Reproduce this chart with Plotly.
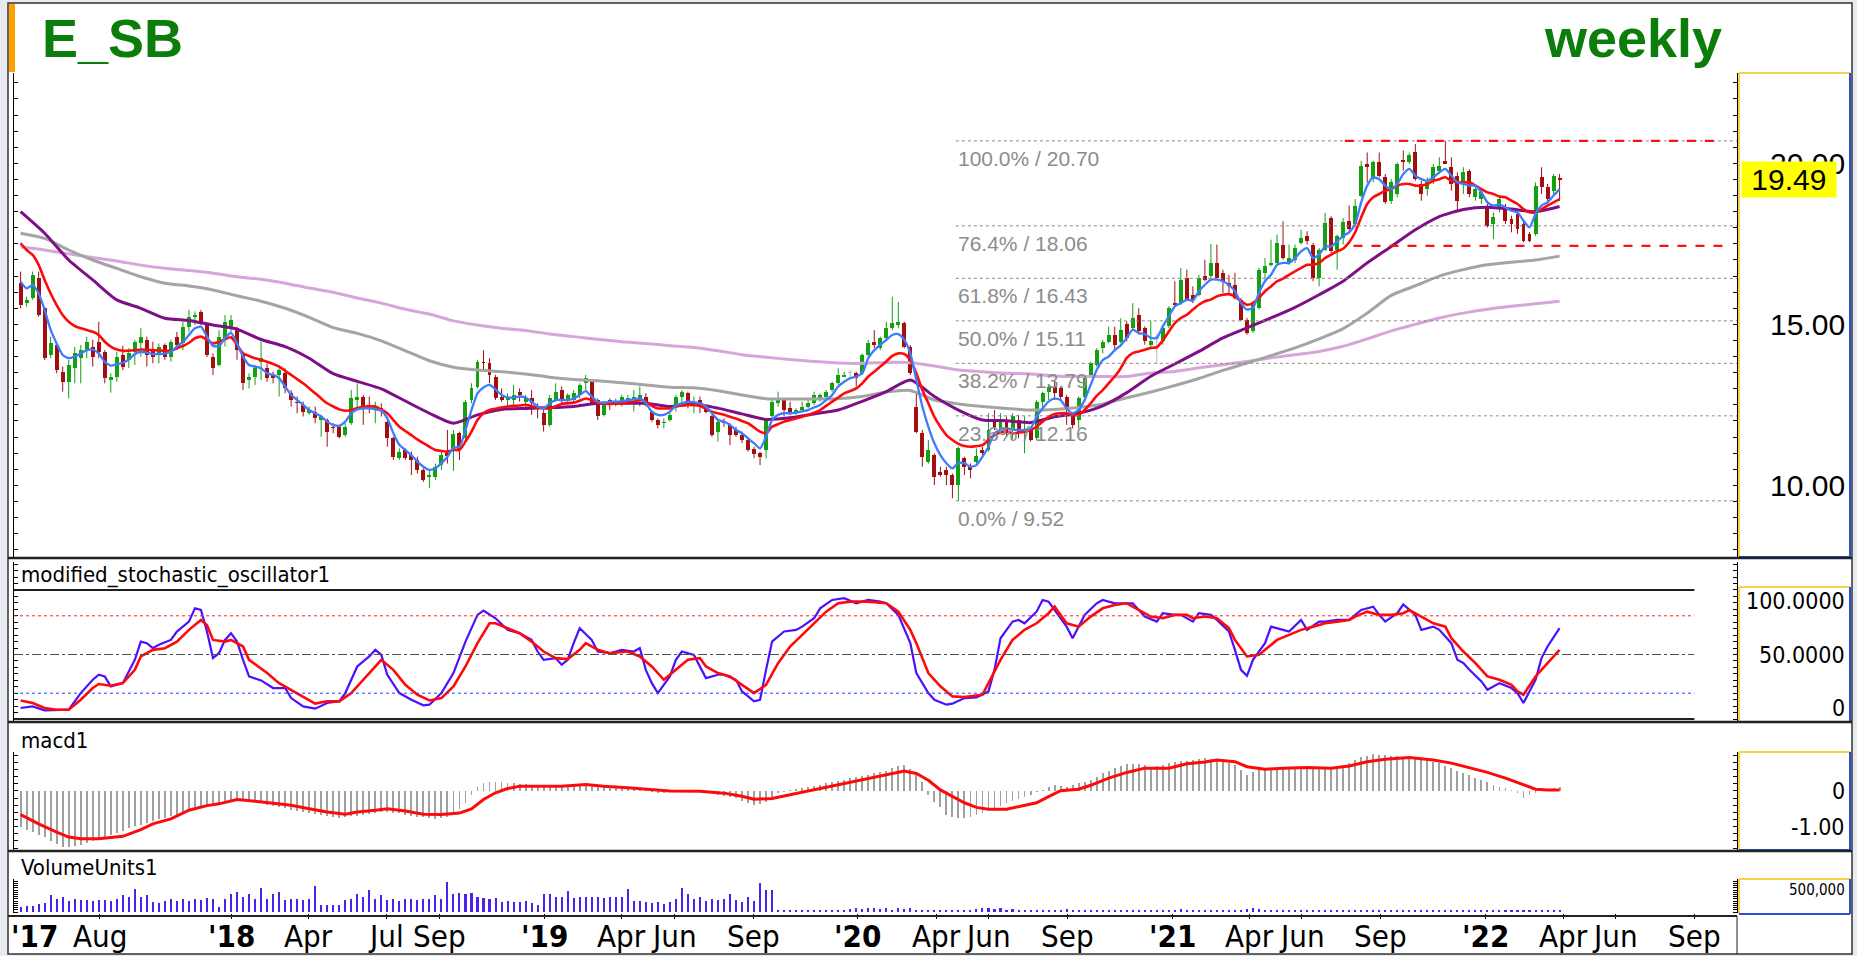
import plotly.graph_objects as go
import pandas as pd

W, H = 1857, 956
def px(x): return x / W
def py(y): return 1 - y / H

# ---------------- data ----------------
start = pd.Timestamp("2017-05-01")

opens = [16.27, 15.66, 15.81, 16.43, 15.50, 14.05, 14.36, 13.53, 13.22, 13.64,
 13.95, 14.20, 14.31, 14.46, 14.15, 13.27, 13.38, 14.05, 13.90, 14.15,
 14.41, 14.52, 14.20, 14.10, 14.36, 14.00, 14.62, 14.41, 14.93, 15.24,
 15.40, 14.98, 14.00, 13.74, 14.52, 14.93, 14.88, 14.05, 13.27, 13.38,
 13.84, 13.64, 13.43, 13.43, 13.48, 12.86, 12.60, 12.50, 12.24, 12.29,
 12.03, 12.03, 11.82, 11.82, 11.56, 11.93, 12.65, 12.76, 12.50, 12.34,
 12.40, 11.98, 11.46, 10.84, 11.10, 10.95, 10.79, 10.48, 10.27, 10.27,
 10.63, 11.00, 11.10, 11.62, 11.46, 12.65, 13.07, 13.84, 13.79, 13.38,
 12.76, 12.65, 12.65, 12.91, 12.60, 12.70, 12.45, 12.24, 11.88, 12.65,
 12.96, 12.65, 12.65, 12.81, 13.17, 13.22, 12.65, 12.19, 12.65, 12.50,
 12.55, 12.65, 12.65, 12.65, 12.76, 12.29, 12.03, 11.93, 12.03, 12.45,
 12.76, 12.86, 12.50, 12.65, 12.36, 12.14, 11.67, 11.98, 11.88, 11.72,
 11.56, 11.41, 11.13, 11.00, 11.10, 12.14, 12.55, 12.65, 12.39, 12.24,
 12.34, 12.45, 12.55, 12.65, 12.76, 12.96, 13.17, 13.38, 13.48, 13.50,
 13.48, 14.05, 14.46, 14.26, 14.57, 14.88, 14.98, 15.03, 14.31, 12.44,
 11.62, 10.74, 10.94, 10.42, 10.48, 10.32, 10.01, 10.84, 10.58, 10.74,
 11.10, 11.10, 12.03, 11.72, 12.03, 11.72, 12.03, 11.62, 11.72, 11.46,
 12.60, 12.91, 13.07, 13.01, 12.76, 12.14, 12.03, 12.76, 13.43, 13.74,
 14.26, 14.46, 14.67, 14.46, 15.00, 14.89, 15.30, 14.89, 14.37, 14.58,
 14.47, 14.94, 15.66, 15.66, 16.44, 15.92, 15.92, 16.49, 16.49, 16.90,
 16.60, 16.29, 16.23, 15.77, 15.15, 14.78, 15.51, 16.60, 16.85, 16.90,
 17.48, 16.90, 17.01, 17.53, 17.74, 17.48, 16.44, 17.32, 18.30, 17.32,
 17.69, 18.22, 18.12, 19.00, 19.98, 19.51, 20.03, 19.59, 18.84, 19.05,
 20.10, 20.03, 20.34, 19.36, 19.20, 19.46, 19.77, 20.08, 19.88, 19.62,
 19.36, 19.77, 18.95, 18.89, 18.69, 18.12, 18.63, 18.63, 18.27, 18.43,
 18.12, 17.81, 17.81, 19.57, 19.26, 19.15, 19.51]

highs = [16.64, 15.86, 16.64, 16.64, 15.55, 14.62, 14.41, 13.69, 13.90, 14.30,
 14.36, 14.62, 14.52, 15.08, 14.20, 13.48, 14.15, 14.34, 14.26, 14.52,
 14.88, 14.62, 14.46, 14.41, 14.41, 14.52, 14.77, 15.08, 15.45, 15.40,
 15.45, 15.03, 14.10, 14.82, 15.29, 15.29, 14.93, 14.10, 13.48, 13.74,
 14.46, 13.79, 13.53, 13.74, 13.64, 12.96, 12.76, 12.60, 12.45, 12.45,
 12.19, 12.08, 11.93, 11.88, 11.93, 12.96, 13.17, 12.81, 12.76, 12.60,
 12.55, 12.03, 11.51, 11.15, 11.15, 11.05, 10.89, 10.53, 10.48, 10.68,
 11.10, 11.72, 11.72, 11.67, 12.65, 13.17, 13.89, 14.20, 13.95, 13.43,
 13.01, 12.86, 13.12, 13.01, 12.81, 12.96, 12.55, 12.34, 12.81, 13.17,
 13.07, 12.86, 12.96, 13.17, 13.43, 13.27, 12.70, 12.60, 12.70, 12.70,
 12.81, 12.81, 12.96, 13.07, 12.86, 12.34, 12.08, 12.08, 12.29, 12.81,
 12.96, 12.91, 12.76, 12.76, 12.50, 12.19, 12.08, 12.08, 11.93, 11.82,
 11.67, 11.46, 11.20, 11.05, 12.08, 12.65, 12.91, 12.70, 12.60, 12.39,
 12.60, 12.65, 12.91, 12.86, 12.96, 13.22, 13.64, 13.53, 13.58, 13.53,
 14.10, 14.52, 14.82, 14.62, 15.08, 15.86, 15.70, 15.08, 14.36, 12.86,
 11.72, 11.41, 10.99, 10.58, 10.58, 10.37, 11.20, 10.89, 10.68, 11.15,
 11.20, 12.24, 12.34, 12.24, 12.14, 12.24, 12.19, 12.14, 11.82, 12.65,
 12.91, 13.12, 13.22, 13.07, 12.81, 12.24, 12.76, 13.43, 13.84, 14.26,
 14.52, 14.93, 14.93, 15.19, 15.10, 15.66, 15.50, 14.94, 15.10, 14.73,
 14.99, 15.56, 16.34, 16.75, 16.70, 16.18, 16.54, 17.01, 17.50, 17.48,
 16.70, 16.54, 16.60, 15.82, 15.20, 15.72, 16.75, 17.06, 17.63, 17.79,
 18.20, 17.48, 17.48, 17.94, 17.89, 17.53, 17.37, 18.46, 18.36, 17.79,
 18.30, 18.69, 18.89, 20.08, 20.34, 20.08, 20.34, 19.67, 19.51, 20.03,
 20.40, 20.34, 20.60, 19.46, 19.57, 19.98, 20.19, 20.70, 20.19, 19.72,
 19.88, 19.82, 19.31, 19.20, 18.74, 18.48, 18.95, 18.74, 18.38, 18.48,
 18.22, 17.86, 19.41, 19.88, 19.36, 19.67, 19.67]

lows = [15.50, 15.55, 15.76, 15.24, 13.89, 13.95, 13.48, 12.91, 12.70, 13.17,
 13.17, 13.95, 13.69, 13.95, 13.17, 12.88, 13.22, 13.58, 13.64, 13.74,
 14.00, 13.69, 13.79, 13.79, 13.90, 13.84, 14.20, 14.20, 14.77, 14.98,
 14.98, 13.99, 13.43, 13.69, 14.31, 14.77, 13.90, 12.96, 13.01, 13.12,
 13.27, 13.22, 13.17, 12.76, 12.86, 12.45, 12.24, 12.14, 12.19, 11.93,
 11.51, 11.20, 11.62, 11.46, 11.51, 11.88, 12.39, 11.88, 12.24, 11.93,
 12.14, 11.20, 10.79, 10.79, 10.79, 10.32, 10.37, 10.11, 9.91, 10.17,
 10.48, 10.68, 10.45, 10.79, 11.41, 12.55, 13.01, 13.53, 13.17, 12.65,
 12.60, 12.45, 12.45, 12.60, 12.34, 12.19, 12.08, 11.67, 11.82, 12.60,
 12.55, 12.50, 12.55, 12.70, 12.96, 12.50, 12.03, 12.14, 12.34, 12.45,
 12.45, 12.50, 12.29, 12.45, 12.45, 11.98, 11.77, 11.77, 11.98, 12.29,
 12.50, 12.39, 12.24, 12.24, 12.24, 11.51, 11.36, 11.82, 11.25, 11.51,
 11.31, 11.05, 10.84, 10.63, 10.84, 12.08, 12.45, 12.14, 12.19, 12.19,
 12.29, 12.39, 12.50, 12.60, 12.65, 12.91, 13.12, 13.38, 13.38, 13.07,
 13.43, 13.99, 14.26, 14.20, 14.52, 14.82, 14.88, 14.26, 13.43, 11.62,
 10.58, 10.68, 10.01, 10.27, 10.01, 9.60, 9.52, 10.32, 10.22, 10.68,
 10.89, 11.05, 11.72, 11.62, 11.51, 11.41, 11.46, 11.00, 11.36, 11.41,
 12.39, 12.65, 12.65, 12.65, 11.88, 11.77, 11.77, 12.60, 13.38, 13.69,
 14.10, 14.41, 14.20, 14.41, 14.47, 14.84, 14.68, 14.37, 14.32, 13.80,
 14.37, 14.89, 15.56, 15.61, 15.72, 15.66, 15.87, 16.34, 16.44, 16.39,
 15.97, 15.92, 15.77, 15.10, 14.68, 14.73, 15.46, 16.39, 16.80, 16.85,
 17.01, 16.85, 16.90, 17.48, 17.48, 16.34, 16.18, 17.27, 17.22, 16.70,
 17.48, 17.86, 18.01, 18.95, 19.40, 19.41, 19.57, 18.74, 18.74, 18.95,
 19.77, 19.98, 19.46, 18.84, 19.00, 19.36, 19.67, 19.98, 19.15, 18.53,
 19.05, 18.95, 18.84, 18.74, 18.01, 17.65, 18.48, 18.12, 17.86, 17.81,
 17.55, 17.55, 17.75, 19.05, 18.79, 19.05, 18.84]

closes = [15.60, 15.76, 16.53, 15.29, 13.95, 14.41, 13.58, 13.22, 13.74, 14.10,
 14.20, 14.46, 14.00, 14.15, 13.32, 13.37, 14.00, 13.69, 14.12, 14.46,
 14.62, 14.05, 14.00, 14.31, 14.00, 14.46, 14.36, 14.93, 15.24, 15.29,
 15.03, 14.05, 13.64, 14.62, 15.08, 15.14, 14.20, 13.17, 13.38, 13.64,
 13.95, 13.32, 13.32, 13.58, 13.01, 12.65, 12.55, 12.29, 12.34, 12.08,
 12.14, 11.67, 11.77, 11.51, 11.82, 12.70, 12.76, 12.45, 12.39, 12.45,
 12.34, 11.46, 10.89, 11.05, 10.84, 10.79, 10.48, 10.17, 10.32, 10.58,
 10.95, 10.90, 11.60, 11.10, 12.60, 13.01, 13.84, 13.79, 13.43, 12.70,
 12.65, 12.76, 12.81, 12.81, 12.70, 12.55, 12.40, 11.88, 12.70, 12.91,
 12.65, 12.81, 12.86, 13.12, 13.33, 12.55, 12.14, 12.50, 12.55, 12.60,
 12.76, 12.70, 12.76, 12.81, 12.50, 12.03, 11.88, 11.98, 12.19, 12.76,
 12.91, 12.60, 12.60, 12.45, 12.29, 11.56, 11.98, 11.93, 11.56, 11.56,
 11.41, 11.10, 10.98, 10.89, 12.03, 12.60, 12.65, 12.34, 12.29, 12.34,
 12.45, 12.55, 12.81, 12.81, 12.91, 13.17, 13.43, 13.43, 13.48, 13.33,
 14.05, 14.41, 14.36, 14.57, 14.88, 15.03, 15.08, 14.31, 13.48, 11.67,
 10.89, 11.10, 10.27, 10.32, 10.32, 10.01, 11.15, 10.58, 10.48, 10.90,
 11.00, 11.72, 11.82, 12.03, 11.62, 12.14, 11.62, 11.72, 11.41, 12.60,
 12.86, 13.07, 12.86, 12.76, 12.39, 11.88, 12.70, 13.38, 13.79, 14.20,
 14.46, 14.67, 14.36, 14.82, 14.58, 15.20, 14.78, 14.47, 14.47, 14.58,
 14.89, 15.50, 15.61, 16.39, 15.77, 15.77, 16.44, 16.39, 16.90, 16.44,
 16.34, 16.18, 15.82, 15.15, 14.73, 15.66, 16.70, 16.80, 16.90, 17.53,
 17.06, 17.06, 17.37, 17.69, 17.58, 16.44, 17.32, 18.14, 17.27, 17.74,
 18.17, 17.96, 18.69, 19.93, 19.88, 20.03, 19.62, 18.79, 19.41, 19.98,
 20.03, 20.27, 19.51, 19.05, 19.41, 19.88, 19.93, 19.98, 19.36, 18.84,
 19.72, 19.05, 19.20, 19.10, 18.07, 18.32, 18.89, 18.22, 18.12, 17.96,
 17.60, 17.60, 19.31, 19.26, 18.89, 19.62, 19.49]

# moving averages (weekly for fast ones)
ma_blue = [16.33, 16.12, 16.22, 15.96, 15.45, 14.83, 14.41, 14.05, 13.95, 14.00,
 14.10, 14.20, 14.22, 14.10, 13.84, 13.72, 13.76, 13.81, 13.91, 14.08,
 14.15, 14.12, 14.08, 14.08, 14.10, 14.15, 14.31, 14.46, 14.67, 14.88,
 14.93, 14.62, 14.33, 14.33, 14.57, 14.74, 14.41, 14.00, 13.74, 13.69,
 13.64, 13.48, 13.43, 13.33, 13.07, 12.81, 12.65, 12.50, 12.34, 12.24,
 12.14, 11.98, 11.88, 11.85, 11.98, 12.24, 12.36, 12.39, 12.39, 12.36,
 12.32, 12.08, 11.62, 11.26, 11.10, 10.94, 10.74, 10.58, 10.48, 10.53,
 10.69, 10.89, 11.17, 11.20, 11.72, 12.34, 12.86, 13.04, 13.12, 12.98,
 12.81, 12.73, 12.73, 12.76, 12.73, 12.60, 12.45, 12.39, 12.55, 12.65,
 12.65, 12.65, 12.70, 12.81, 12.93, 12.76, 12.60, 12.57, 12.60, 12.60,
 12.62, 12.65, 12.67, 12.70, 12.55, 12.29, 12.19, 12.19, 12.29, 12.48,
 12.55, 12.60, 12.58, 12.55, 12.45, 12.24, 12.03, 11.98, 11.88, 11.72,
 11.62, 11.46, 11.31, 11.15, 11.51, 12.03, 12.19, 12.24, 12.24, 12.26,
 12.30, 12.34, 12.42, 12.50, 12.65, 12.81, 13.07, 13.22, 13.33, 13.38,
 13.48, 13.95, 14.20, 14.36, 14.52, 14.67, 14.70, 14.52, 14.10, 13.27,
 12.45, 11.82, 11.31, 10.94, 10.69, 10.53, 10.69, 10.69, 10.58, 10.63,
 10.89, 11.20, 11.62, 11.72, 11.77, 11.74, 11.72, 11.72, 11.77, 12.13,
 12.39, 12.60, 12.70, 12.65, 12.39, 12.24, 12.34, 12.65, 13.12, 13.58,
 13.89, 14.00, 14.20, 14.35, 14.58, 14.84, 14.73, 14.70, 14.58, 14.58,
 14.94, 15.25, 15.56, 15.66, 15.77, 15.74, 16.03, 16.23, 16.39, 16.39,
 16.34, 16.23, 16.03, 15.66, 15.46, 15.51, 15.98, 16.34, 16.54, 16.85,
 16.91, 16.91, 17.06, 17.27, 17.37, 17.06, 17.17, 17.42, 17.42, 17.58,
 17.75, 17.86, 18.12, 18.79, 19.31, 19.57, 19.51, 19.31, 19.20, 19.36,
 19.67, 19.83, 19.62, 19.51, 19.46, 19.57, 19.72, 19.83, 19.62, 19.41,
 19.36, 19.31, 19.31, 19.10, 18.79, 18.69, 18.72, 18.64, 18.53, 18.48,
 18.22, 18.01, 18.43, 18.69, 18.79, 19.00, 19.20]

ma_red = [17.52, 17.31, 17.16, 16.85, 16.38, 15.96, 15.60, 15.29, 15.08, 14.95,
 14.88, 14.83, 14.77, 14.67, 14.46, 14.31, 14.22, 14.18, 14.18, 14.20,
 14.22, 14.21, 14.20, 14.19, 14.18, 14.18, 14.26, 14.33, 14.43, 14.57,
 14.62, 14.52, 14.41, 14.46, 14.54, 14.60, 14.36, 14.10, 14.02, 13.95,
 13.90, 13.84, 13.77, 13.69, 13.56, 13.43, 13.30, 13.17, 13.02, 12.86,
 12.70, 12.55, 12.45, 12.36, 12.32, 12.34, 12.40, 12.45, 12.45, 12.45,
 12.35, 12.24, 12.03, 11.82, 11.69, 11.56, 11.43, 11.31, 11.20, 11.10,
 11.07, 11.05, 11.10, 11.10, 11.36, 11.67, 12.03, 12.24, 12.34, 12.38,
 12.42, 12.45, 12.47, 12.48, 12.50, 12.46, 12.42, 12.40, 12.39, 12.46,
 12.53, 12.55, 12.57, 12.63, 12.70, 12.65, 12.55, 12.54, 12.53, 12.54,
 12.55, 12.58, 12.60, 12.65, 12.60, 12.47, 12.39, 12.39, 12.39, 12.45,
 12.48, 12.50, 12.49, 12.47, 12.38, 12.29, 12.24, 12.19, 12.13, 12.08,
 12.00, 11.93, 11.80, 11.67, 11.62, 11.82, 11.90, 11.98, 12.03, 12.08,
 12.13, 12.19, 12.26, 12.34, 12.47, 12.60, 12.73, 12.86, 12.93, 13.01,
 13.17, 13.38, 13.53, 13.69, 13.85, 14.02, 14.10, 14.08, 13.89, 13.48,
 12.96, 12.55, 12.13, 11.82, 11.56, 11.41, 11.29, 11.22, 11.20, 11.22,
 11.25, 11.41, 11.56, 11.64, 11.67, 11.62, 11.64, 11.67, 11.72, 11.82,
 11.98, 12.13, 12.22, 12.24, 12.24, 12.19, 12.19, 12.34, 12.55, 12.78,
 12.96, 13.17, 13.38, 13.64, 13.96, 14.11, 14.16, 14.21, 14.27, 14.29,
 14.50, 14.78, 15.04, 15.20, 15.30, 15.46, 15.61, 15.72, 15.77, 15.87,
 15.92, 15.94, 15.87, 15.72, 15.61, 15.66, 15.82, 16.03, 16.18, 16.34,
 16.42, 16.54, 16.65, 16.75, 16.85, 16.85, 16.91, 17.06, 17.17, 17.27,
 17.35, 17.55, 17.86, 18.32, 18.74, 18.95, 19.05, 19.15, 19.20, 19.31,
 19.36, 19.36, 19.31, 19.31, 19.36, 19.46, 19.51, 19.57, 19.46, 19.41,
 19.41, 19.41, 19.31, 19.20, 19.10, 19.05, 18.97, 18.95, 18.84, 18.74,
 18.58, 18.48, 18.48, 18.58, 18.69, 18.79, 18.89]

# slow averages read every 4 weeks (week numbers 1, 5, 9, ... 257)
ma_slow_weeks = list(range(1, 258, 4))
ma_purple = [18.50, 17.83, 17.00, 16.38, 15.76, 15.50, 15.19, 15.12, 14.98, 14.85,
 14.53, 14.31, 13.95, 13.47, 13.23, 13.00, 12.62, 12.24, 11.93, 12.19,
 12.36, 12.39, 12.41, 12.45, 12.55, 12.55, 12.55, 12.45, 12.53, 12.40,
 12.22, 12.05, 12.10, 12.22, 12.34, 12.61, 12.91, 13.27, 12.76, 12.34,
 12.03, 12.01, 11.95, 12.13, 12.24, 12.47, 12.88, 13.39, 13.77, 14.16,
 14.58, 14.89, 15.20, 15.53, 15.92, 16.34, 16.91, 17.42, 17.94, 18.35,
 18.57, 18.64, 18.58, 18.50, 18.66]
ma_gray = [17.83, 17.67, 17.31, 17.00, 16.74, 16.48, 16.28, 16.19, 16.07, 15.89,
 15.72, 15.50, 15.22, 14.90, 14.72, 14.49, 14.18, 13.87, 13.67, 13.58,
 13.53, 13.46, 13.36, 13.29, 13.25, 13.19, 13.12, 13.05, 13.03, 12.94,
 12.81, 12.69, 12.68, 12.68, 12.69, 12.76, 12.90, 12.95, 12.65, 12.53,
 12.45, 12.39, 12.34, 12.36, 12.42, 12.53, 12.72, 12.90, 13.10, 13.32,
 13.57, 13.80, 14.03, 14.27, 14.55, 14.87, 15.35, 15.90, 16.20, 16.50,
 16.70, 16.85, 16.93, 17.00, 17.12]
ma_pink = [17.41, 17.31, 17.19, 17.08, 16.97, 16.84, 16.74, 16.67, 16.59, 16.48,
 16.40, 16.28, 16.13, 16.00, 15.82, 15.66, 15.47, 15.32, 15.11, 14.98,
 14.88, 14.81, 14.70, 14.62, 14.54, 14.46, 14.41, 14.34, 14.28, 14.18,
 14.06, 13.98, 13.91, 13.85, 13.80, 13.79, 13.82, 13.81, 13.71, 13.58,
 13.53, 13.48, 13.46, 13.40, 13.38, 13.38, 13.38, 13.49, 13.54, 13.65,
 13.75, 13.85, 13.96, 14.06, 14.16, 14.32, 14.55, 14.80, 15.00, 15.20,
 15.35, 15.47, 15.56, 15.64, 15.72]

# Fibonacci retracement
fib_pcts = ["0.0%", "23.6%", "38.2%", "50.0%", "61.8%", "76.4%", "100.0%"]
fib_vals = [9.52, 12.16, 13.79, 15.11, 16.43, 18.06, 20.70]
fib_start = "2020-04-24"
range_lines = [20.70, 17.44]
range_starts = ["2021-07-21", "2021-07-31"]
range_end = "2022-10-04"
last_price = 19.49

# stochastic (week number, value)
stk_weeks = [1, 3, 5, 7, 9, 11, 13, 14, 15, 16, 18, 20, 21, 22, 23, 24, 26, 27, 29, 30,
 31, 32, 33, 34, 35, 36, 37, 38, 39, 41, 43, 45, 46, 48, 50, 52, 54, 55, 57, 59,
 60, 61, 62, 64, 66, 68, 69, 71, 73, 75, 77, 78, 80, 82, 84, 86, 87, 88, 90, 91,
 92, 93, 94, 96, 97, 99, 101, 103, 104, 105, 106, 107, 109, 110, 111, 113, 115, 117, 118, 120,
 121, 123, 124, 125, 126, 128, 130, 131, 133, 134, 136, 138, 140, 142, 144, 145, 147, 149, 150, 152,
 153, 155, 156, 158, 160, 162, 163, 164, 166, 167, 168, 170, 171, 172, 173, 175, 176, 177, 178, 180,
 181, 183, 184, 186, 188, 190, 191, 193, 194, 196, 197, 199, 200, 202, 203, 204, 205, 206, 208, 209,
 211, 212, 214, 215, 217, 218, 220, 222, 224, 226, 227, 228, 230, 231, 233, 234, 236, 237, 239, 240,
 241, 242, 244, 245, 247, 249, 250, 251, 253, 254, 255, 257]
stk_k = [8.5, 9.8, 6.7, 6.7, 7.2, 20.1, 30.4, 34.3, 33.0, 25.3, 27.8, 45.9, 60.0, 58.8, 54.9, 57.5, 61.3, 67.8, 75.5, 85.8,
 84.5, 67.8, 47.2, 51.0, 61.3, 66.5, 60.0, 45.9, 33.0, 29.9, 24.0, 24.0, 16.2, 9.8, 8.0, 12.4, 13.7, 20.1, 40.7, 48.5,
 53.6, 49.7, 34.3, 20.1, 14.9, 10.6, 11.1, 20.1, 35.6, 60.0, 80.7, 84.0, 78.1, 69.1, 66.5, 61.3, 52.3, 45.9, 47.2, 42.0,
 45.9, 58.8, 70.4, 61.3, 52.3, 51.0, 53.6, 52.3, 54.9, 38.1, 27.8, 20.1, 33.0, 45.9, 52.3, 49.7, 31.7, 34.3, 34.3, 30.4,
 21.4, 13.7, 14.9, 38.1, 60.0, 67.8, 69.1, 71.6, 78.1, 85.8, 92.3, 93.6, 89.7, 92.3, 91.0, 89.7, 80.7, 58.8, 35.6, 20.1,
 14.9, 11.1, 11.9, 16.2, 16.8, 21.4, 38.1, 62.6, 75.5, 76.8, 74.2, 83.2, 92.3, 91.0, 84.5, 71.6, 62.6, 71.6, 80.7, 89.7,
 92.3, 89.7, 89.7, 89.7, 79.4, 75.5, 82.0, 80.7, 80.7, 75.5, 82.0, 80.7, 76.8, 67.8, 53.6, 38.1, 33.5, 45.9, 58.8, 71.6,
 69.1, 67.8, 76.8, 69.1, 75.5, 75.5, 76.8, 76.8, 84.5, 87.1, 80.7, 75.5, 82.0, 88.9, 80.7, 69.1, 71.6, 69.1, 58.8, 45.9,
 43.3, 38.1, 29.1, 22.7, 27.8, 24.0, 20.1, 12.4, 30.4, 47.2, 56.2, 70.4]
std_weeks = [1, 3, 5, 7, 9, 11, 13, 14, 16, 18, 20, 21, 23, 25, 27, 29, 31, 32, 33, 35,
 36, 38, 39, 42, 44, 46, 48, 50, 52, 54, 56, 58, 60, 61, 63, 65, 67, 69, 71, 73,
 75, 77, 79, 80, 82, 84, 86, 88, 90, 92, 94, 95, 97, 99, 102, 104, 106, 108, 110, 112,
 114, 115, 117, 119, 121, 123, 125, 127, 129, 131, 133, 135, 137, 139, 142, 145, 147, 149, 150, 152,
 154, 156, 158, 161, 162, 164, 166, 168, 170, 172, 173, 175, 177, 179, 181, 183, 185, 187, 189, 191,
 193, 195, 196, 198, 200, 202, 203, 205, 207, 208, 210, 212, 214, 216, 218, 220, 222, 223, 225, 227,
 229, 231, 232, 234, 236, 238, 239, 241, 243, 245, 247, 249, 250, 251, 253, 255, 257]
std_d = [14.4, 12.4, 8.5, 7.2, 7.2, 14.9, 24.0, 27.1, 25.8, 27.8, 38.1, 48.5, 53.6, 54.9, 60.0, 69.1, 76.8, 72.9, 61.3, 60.0,
 61.3, 56.2, 45.9, 35.6, 27.8, 22.7, 17.5, 11.9, 13.7, 13.7, 20.1, 30.4, 40.7, 45.9, 38.1, 26.5, 18.8, 14.4, 16.2, 25.3,
 40.7, 58.8, 74.2, 74.2, 70.4, 66.5, 60.0, 52.3, 47.2, 46.4, 53.6, 58.8, 53.6, 51.0, 52.3, 48.5, 40.7, 30.4, 38.1, 45.9,
 47.2, 40.7, 35.6, 33.0, 26.5, 20.1, 26.5, 43.3, 56.2, 65.2, 74.2, 83.2, 89.7, 91.0, 91.0, 89.7, 83.2, 69.1, 58.8, 35.6,
 25.3, 17.5, 17.0, 18.8, 27.8, 45.9, 61.3, 69.1, 74.2, 82.0, 87.1, 74.2, 71.6, 79.4, 85.8, 88.4, 89.7, 84.5, 79.4, 78.1,
 80.7, 80.7, 78.1, 79.4, 78.1, 70.4, 61.3, 48.5, 49.7, 53.6, 61.3, 65.2, 69.1, 71.6, 74.2, 75.5, 76.8, 79.4, 83.2, 80.7,
 80.7, 82.0, 84.5, 79.4, 74.2, 71.6, 62.6, 52.3, 43.3, 33.0, 30.4, 26.5, 21.4, 18.8, 33.0, 43.3, 53.6]
stoch_levels = [80, 50, 20]

# MACD
macd_hist = [-1.01, -1.08, -1.15, -1.22, -1.30, -1.40, -1.48, -1.57, -1.58, -1.55,
 -1.50, -1.45, -1.41, -1.36, -1.30, -1.24, -1.18, -1.12, -1.05, -0.99,
 -0.94, -0.89, -0.84, -0.79, -0.75, -0.70, -0.66, -0.61, -0.56, -0.52,
 -0.47, -0.43, -0.38, -0.33, -0.29, -0.26, -0.24, -0.25, -0.27, -0.30,
 -0.34, -0.38, -0.42, -0.45, -0.48, -0.52, -0.55, -0.59, -0.62, -0.65,
 -0.68, -0.70, -0.73, -0.75, -0.73, -0.71, -0.69, -0.66, -0.64, -0.62,
 -0.60, -0.59, -0.61, -0.63, -0.66, -0.69, -0.72, -0.74, -0.76, -0.78,
 -0.77, -0.72, -0.64, -0.50, -0.33, -0.10, 0.10, 0.22, 0.25, 0.25,
 0.24, 0.22, 0.21, 0.20, 0.19, 0.17, 0.15, 0.13, 0.12, 0.11,
 0.11, 0.12, 0.15, 0.19, 0.21, 0.19, 0.17, 0.16, 0.15, 0.14,
 0.12, 0.11, 0.09, 0.06, 0.02, -0.03, -0.07, -0.06, -0.04, -0.03,
 -0.03, -0.03, -0.03, -0.03, -0.05, -0.08, -0.12, -0.15, -0.18, -0.21,
 -0.27, -0.34, -0.40, -0.36, -0.31, -0.18, -0.07, -0.02, 0.02, 0.05,
 0.08, 0.11, 0.15, 0.18, 0.22, 0.25, 0.29, 0.32, 0.36, 0.39,
 0.43, 0.46, 0.50, 0.53, 0.57, 0.65, 0.69, 0.72, 0.62, 0.49,
 0.25, -0.10, -0.30, -0.44, -0.67, -0.72, -0.77, -0.75, -0.72, -0.67,
 -0.63, -0.56, -0.49, -0.42, -0.35, -0.29, -0.23, -0.17, -0.11, -0.04,
 0.03, 0.10, 0.17, 0.14, 0.12, 0.16, 0.21, 0.26, 0.31, 0.40,
 0.50, 0.57, 0.64, 0.70, 0.76, 0.76, 0.76, 0.72, 0.68, 0.70,
 0.73, 0.78, 0.82, 0.84, 0.85, 0.88, 0.90, 0.92, 0.90, 0.87,
 0.83, 0.78, 0.73, 0.60, 0.45, 0.52, 0.61, 0.63, 0.64, 0.64,
 0.64, 0.65, 0.66, 0.68, 0.68, 0.68, 0.68, 0.68, 0.68, 0.68,
 0.73, 0.78, 0.86, 0.94, 0.99, 1.03, 1.02, 1.01, 0.99, 0.97,
 0.96, 0.93, 0.90, 0.87, 0.84, 0.81, 0.78, 0.71, 0.64, 0.57,
 0.50, 0.44, 0.37, 0.31, 0.25, 0.18, 0.12, 0.07, 0.03, -0.05,
 -0.21, -0.12, -0.07, 0.03, 0.05, 0.08, 0.10]
sig_weeks = [1, 4, 7, 9, 11, 14, 18, 21, 23, 26, 29, 32, 34, 37, 40, 43, 46, 49, 52, 55,
 57, 60, 62, 65, 68, 71, 74, 76, 78, 80, 82, 84, 87, 91, 95, 98, 102, 106, 109, 114,
 118, 121, 123, 126, 130, 134, 138, 142, 146, 148, 150, 152, 154, 156, 158, 160, 162, 165, 167, 170,
 172, 174, 177, 179, 182, 185, 188, 192, 195, 198, 200, 203, 205, 208, 211, 215, 219, 222, 225, 228,
 232, 236, 239, 242, 245, 248, 251, 253, 255, 257]
sig_vals = [-0.66, -0.92, -1.15, -1.29, -1.34, -1.34, -1.27, -1.08, -0.92, -0.78, -0.54, -0.41, -0.36, -0.24, -0.29, -0.34, -0.40, -0.50, -0.59, -0.65,
 -0.59, -0.54, -0.50, -0.56, -0.65, -0.66, -0.62, -0.50, -0.24, -0.05, 0.07, 0.13, 0.13, 0.13, 0.18, 0.13, 0.09, 0.04, 0.00, -0.01,
 -0.06, -0.15, -0.23, -0.21, -0.07, 0.07, 0.21, 0.35, 0.47, 0.56, 0.49, 0.30, 0.03, -0.16, -0.33, -0.46, -0.51, -0.51, -0.44, -0.33,
 -0.16, 0.01, 0.05, 0.16, 0.36, 0.52, 0.64, 0.64, 0.76, 0.81, 0.87, 0.82, 0.68, 0.61, 0.64, 0.66, 0.64, 0.70, 0.82, 0.89,
 0.94, 0.87, 0.78, 0.66, 0.52, 0.36, 0.17, 0.05, 0.03, 0.03]

# volume, thousands of units
volume_k = [120, 130, 140, 190, 200, 385, 300, 350, 260, 300, 270, 280, 250, 270, 280, 260, 300, 385, 330, 515,
 350, 380, 220, 210, 240, 300, 260, 290, 240, 300, 270, 310, 300, 120, 300, 400, 450, 350, 400, 300,
 540, 300, 420, 460, 270, 300, 290, 280, 290, 580, 160, 150, 150, 160, 270, 300, 420, 350, 500, 290,
 385, 280, 300, 250, 290, 300, 280, 290, 300, 385, 300, 690, 420, 440, 420, 440, 350, 320, 300, 310,
 230, 250, 220, 230, 260, 200, 155, 420, 400, 330, 350, 480, 320, 340, 330, 350, 330, 320, 330, 340,
 330, 515, 250, 240, 230, 210, 230, 180, 220, 300, 540, 420, 300, 330, 260, 300, 280, 290, 420, 270,
 230, 330, 250, 650, 500, 490,
 45, 40, 45, 40, 45, 45, 40, 45, 40, 45, 40, 45, 60, 90,
 60, 90, 90, 60, 90, 45, 90, 60, 90, 45,
 40, 45, 40, 45, 45, 40, 45, 40, 45, 60,
 90, 90, 60, 90, 45, 60, 45, 45, 40, 45,
 45, 40, 45, 45, 60, 45, 40, 45, 45, 40,
 45, 45, 40, 45, 45, 40, 45, 45, 40, 45,
 45, 40, 45, 60, 45, 40, 45, 45, 40, 45,
 45, 40, 45, 45, 60, 90, 60, 45, 45, 40,
 45, 45, 40, 45, 45, 40, 45, 45, 40, 45,
 45, 40, 45, 45, 40, 45, 45, 40, 45, 45,
 40, 45, 45, 40, 45, 45, 40, 45, 45, 40,
 45, 45, 40, 45, 45, 40, 45, 45, 40, 45,
 45, 40, 45, 45, 40, 45, 45]

# axis labels
price_ticks = [10, 15, 20]
stoch_tick_text = ["100.0000", "50.0000", "0"]
macd_tick_vals = [0, -1]
macd_tick_text = ["0", "-1.00"]
vol_tick_text = "500,000"
xlab_dates = ["2017-05-17", "2017-08-01", "2018-01-01", "2018-04-01", "2018-07-01", "2018-09-01",
              "2019-01-01", "2019-04-01", "2019-06-01", "2019-09-01", "2020-01-01", "2020-04-01",
              "2020-06-01", "2020-09-01", "2021-01-01", "2021-04-01", "2021-06-01", "2021-09-01",
              "2022-01-01", "2022-04-01", "2022-06-01", "2022-09-01"]
xlab_text = ["'17", "Aug", "'18", "Apr", "Jul", "Sep", "'19", "Apr", "Jun", "Sep", "'20", "Apr",
             "Jun", "Sep", "'21", "Apr", "Jun", "Sep", "'22", "Apr", "Jun", "Sep"]

n = len(closes)
assert len(opens) == n == len(highs) == len(lows) == len(ma_blue) == len(ma_red) == len(macd_hist) == len(volume_k) == 257
assert len(ma_purple) == len(ma_gray) == len(ma_pink) == len(ma_slow_weeks)
assert len(stk_weeks) == len(stk_k) and len(std_weeks) == len(std_d) and len(sig_weeks) == len(sig_vals)

dates = list(pd.date_range(start, periods=n, freq="7D"))
def wk(k): return dates[k - 1]

# ---------------- styling ----------------
C_UP = "#13a013"
C_DN = "#a30f0f"
C_DOJI = "#b8b8b8"
C_TITLE = "#0b7d0b"
NARROW = "Liberation Sans Narrow, Arial Narrow, DejaVu Sans Condensed, Liberation Sans, Arial, sans-serif"
SANS = "Liberation Sans, Arial, sans-serif"
DAY_MS = 86400000

x_lo = start - pd.Timedelta(days=7.7)
x_hi = start + pd.Timedelta(days=1998.6)
XL, XR = 14, 1737

fig = go.Figure()

# ---- candles ----
def wick_trace(idx, color):
    xs, ys = [], []
    for i in idx:
        xs += [dates[i], dates[i], None]
        ys += [lows[i], highs[i], None]
    return go.Scatter(x=xs, y=ys, mode="lines", line=dict(color=color, width=1),
                      hoverinfo="skip", showlegend=False, xaxis="x", yaxis="y")

up = [i for i in range(n) if closes[i] > opens[i]]
dn = [i for i in range(n) if closes[i] < opens[i]]
eq = [i for i in range(n) if closes[i] == opens[i]]
for idx, col in ((up, C_UP), (dn, C_DN), (eq, C_DOJI)):
    fig.add_trace(wick_trace(idx, col))
    fig.add_trace(go.Bar(
        x=[dates[i] for i in idx],
        y=[max(abs(closes[i] - opens[i]), 0.05) for i in idx],
        base=[min(closes[i], opens[i]) for i in idx],
        width=4.6 * DAY_MS, marker=dict(color=col, line=dict(width=0)),
        hoverinfo="skip", showlegend=False, xaxis="x", yaxis="y"))

# ---- moving averages ----
slow_dates = [wk(k) for k in ma_slow_weeks]
for vals, xs, col, w in ((ma_pink, slow_dates, "#d6a6da", 3),
                         (ma_gray, slow_dates, "#a4a4a4", 3),
                         (ma_purple, slow_dates, "#7f0f86", 3),
                         (ma_red, dates, "#ff0a0a", 2.6),
                         (ma_blue, dates, "#3d7bff", 2.3)):
    fig.add_trace(go.Scatter(x=xs, y=vals, mode="lines", line=dict(color=col, width=w, shape="spline", smoothing=0.6),
                             hoverinfo="skip", showlegend=False, xaxis="x", yaxis="y"))

# ---- stochastic ----
fig.add_trace(go.Scatter(x=[wk(k) for k in stk_weeks], y=stk_k, mode="lines",
                         line=dict(color="#4b10ff", width=2.2), hoverinfo="skip",
                         showlegend=False, xaxis="x2", yaxis="y2"))
fig.add_trace(go.Scatter(x=[wk(k) for k in std_weeks], y=std_d, mode="lines",
                         line=dict(color="#ff0a0a", width=2.6), hoverinfo="skip",
                         showlegend=False, xaxis="x2", yaxis="y2"))

# ---- MACD ----
fig.add_trace(go.Bar(x=dates, y=macd_hist, width=2.2 * DAY_MS,
                     marker=dict(color="#a0a0a0", line=dict(width=0)),
                     hoverinfo="skip", showlegend=False, xaxis="x3", yaxis="y3"))
fig.add_trace(go.Scatter(x=[wk(k) for k in sig_weeks], y=sig_vals, mode="lines",
                         line=dict(color="#ff0a0a", width=3), hoverinfo="skip",
                         showlegend=False, xaxis="x3", yaxis="y3"))

# ---- volume ----
fig.add_trace(go.Bar(x=dates, y=[v * 1000 for v in volume_k], width=2.4 * DAY_MS,
                     marker=dict(color="#4a22f0", line=dict(width=0)),
                     hoverinfo="skip", showlegend=False, xaxis="x4", yaxis="y4"))

# ---------------- axes ----------------
xdom = [px(XL), px(XR)]
common_x = dict(type="date", range=[x_lo, x_hi], domain=xdom, showgrid=False,
                zeroline=False, showticklabels=False, ticks="", fixedrange=True)
common_y = dict(showgrid=False, zeroline=False, showticklabels=False, ticks="inside",
                ticklen=4, tickcolor="#000000", side="right", showline=True,
                linecolor="#000000", linewidth=1, mirror="ticks", fixedrange=True)
fig.update_layout(
    xaxis=dict(common_x, anchor="y"),
    xaxis2=dict(common_x, anchor="y2", matches="x"),
    xaxis3=dict(common_x, anchor="y3", matches="x"),
    xaxis4=dict(common_x, anchor="y4", matches="x", ticks="outside", ticklen=5,
                tickcolor="#000000", tickvals=xlab_dates[1:], showline=False),
    yaxis=dict(common_y, anchor="x", domain=[py(557), py(73)], range=[7.776, 22.807],
               tick0=0, dtick=0.5),
    yaxis2=dict(common_y, anchor="x2", domain=[py(721), py(562)], range=[-1.55, 121.7],
                tick0=0, dtick=5),
    yaxis3=dict(common_y, anchor="x3", domain=[py(850), py(752)], range=[-1.653, 1.092],
                tick0=0, dtick=0.2),
    yaxis4=dict(common_y, anchor="x4", domain=[py(913), py(879)], range=[-22700, 750000],
                tick0=0, dtick=50000),
)

# ---------------- shapes ----------------
shapes = []
def pline(x0, y0, x1, y1, color, width=1, dash=None, layer="above"):
    d = dict(type="line", xref="paper", yref="paper", x0=px(x0), y0=py(y0), x1=px(x1), y1=py(y1),
             line=dict(color=color, width=width), layer=layer)
    if dash:
        d["line"]["dash"] = dash
    shapes.append(d)

# page frame
shapes.append(dict(type="rect", xref="paper", yref="paper", x0=0, y0=0, x1=1, y1=1,
                   fillcolor="#e7eaef", line=dict(width=0), layer="below"))
shapes.append(dict(type="rect", xref="paper", yref="paper", x0=px(8), y0=py(954), x1=px(1852), y1=py(3),
                   fillcolor="#ffffff", line=dict(color="#333333", width=1.5), layer="below"))
# orange marker at top-left
shapes.append(dict(type="rect", xref="paper", yref="paper", x0=px(9), y0=py(72), x1=px(15), y1=py(4),
                   fillcolor="#ffa200", line=dict(width=0), layer="above"))

# right axis boxes (yellow top/left, blue bottom/right)
for top, bot in ((73, 557), (587, 722), (752, 850), (879, 914)):
    pline(1739, top, 1850, top, "#f5d24a", 2)
    pline(1739, top, 1739, bot, "#f5d24a", 2)
    pline(1739, bot, 1850, bot, "#2a4fd0", 2)
    pline(1850, top, 1850, bot, "#2a4fd0", 2)

# panel separators
for y in (558, 722, 851):
    pline(8, y, 1852, y, "#222222", 2.5)
pline(8, 916, XR, 916, "#222222", 2)
pline(XR, 916, XR, 954, "#222222", 1)

# fibonacci lines
for v in fib_vals:
    shapes.append(dict(type="line", xref="x", yref="y", x0=fib_start, x1=x_hi, y0=v, y1=v,
                       line=dict(color="#8a8a8a", width=1, dash="dot"), layer="above"))
# red dashed range lines
for v, s in zip(range_lines, range_starts):
    shapes.append(dict(type="line", xref="x", yref="y", x0=s, x1=range_end, y0=v, y1=v,
                       line=dict(color="#ff1010", width=2.2, dash="dash"), layer="above"))

# stochastic reference lines
stoch_end = "2022-09-01"
for v, col, dash, w in ((100, "#202020", None, 2), (0, "#202020", None, 2),
                        (stoch_levels[0], "#ff2020", "dot", 1),
                        (stoch_levels[1], "#505050", "dashdot", 1),
                        (stoch_levels[2], "#2040ff", "dot", 1)):
    d = dict(type="line", xref="x2", yref="y2", x0=x_lo, x1=stoch_end, y0=v, y1=v,
             line=dict(color=col, width=w), layer="above")
    if dash:
        d["line"]["dash"] = dash
    shapes.append(d)

# ---------------- annotations ----------------
ann = []
def text(x, y, s, size, color="#000000", family=SANS, xanchor="left", yanchor="middle", **kw):
    d = dict(x=x, y=y, xref=kw.pop("xref", "paper"), yref=kw.pop("yref", "paper"), text=s,
             showarrow=False, xanchor=xanchor, yanchor=yanchor,
             font=dict(size=size, color=color, family=family))
    d.update(kw)
    ann.append(d)

text(px(40), py(38), "<b>E_SB</b>", 54, C_TITLE)
text(px(1633), py(38), "<b>weekly</b>", 54, C_TITLE, xanchor="center")

for v in price_ticks:
    text(px(1847), v, f"{v:.2f}", 30, xanchor="right", yref="y")
text(px(1741), last_price, " 19.49 ", 30, xanchor="left", yref="y", bgcolor="#ffff00", borderpad=1)

for v, lab in zip(fib_vals, fib_pcts):
    text(fib_start, v, f"{lab} / {v:.2f}", 21, "#8c8c8c", xref="x", yref="y",
         yanchor="top", yshift=-4)

text(px(19), py(575), "modified_stochastic_oscillator1", 22, family=NARROW)
text(px(19), py(740), "macd1", 22, family=NARROW)
text(px(19), py(867), "VolumeUnits1", 22, family=NARROW)

for ypix, s in zip((601, 655, 708), stoch_tick_text):
    text(px(1847), py(ypix), s, 23, xanchor="right", family=NARROW)
for v, s in zip(macd_tick_vals, macd_tick_text):
    text(px(1847), v, s, 23, xanchor="right", yref="y3", family=NARROW)
text(px(1847), py(890), vol_tick_text, 15, xanchor="right", family=NARROW)

for d, s in zip(xlab_dates, xlab_text):
    lab = f"<b>{s}</b>" if s.startswith("'") else s
    text(d, py(936), lab, 31, xref="x", xanchor="center", family=NARROW)

fig.update_layout(
    width=W, height=H, margin=dict(l=0, r=0, t=0, b=0),
    paper_bgcolor="#ffffff", plot_bgcolor="rgba(0,0,0,0)",
    barmode="overlay", bargap=0, showlegend=False,
    shapes=shapes, annotations=ann, hovermode=False,
)

fig.write_html("out.html", config={"displayModeBar": False, "staticPlot": True},
               post_script="document.body.style.margin='0';document.body.style.overflow='hidden';")
